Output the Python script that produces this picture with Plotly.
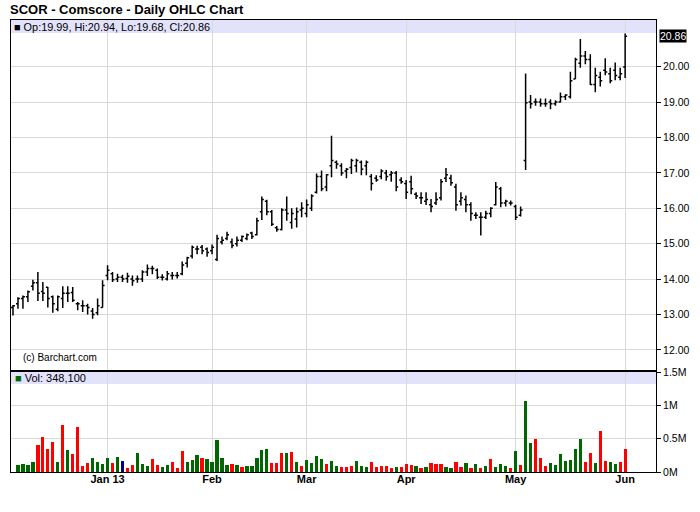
import pandas as pd
import plotly.graph_objects as go
from plotly.subplots import make_subplots

# ---- trading days (categories) ----
holidays = ["2012-12-25", "2013-01-01", "2013-01-21", "2013-02-18", "2013-03-29", "2013-05-27"]
dates = [d.strftime("%Y-%m-%d") for d in pd.bdate_range("2012-12-04", "2013-06-03")
         if d.strftime("%Y-%m-%d") not in holidays]

month_ticks = ["2013-01-02", "2013-02-01", "2013-03-01", "2013-04-01", "2013-05-01", "2013-06-03"]
month_labels = ["Jan 13", "Feb", "Mar", "Apr", "May", "Jun"]

price_ticks = [12, 13, 14, 15, 16, 17, 18, 19, 20]
vol_ticks = [0, 500000, 1000000, 1500000]
vol_labels = ["0M", "0.5M", "1M", "1.5M"]

# ---- OHLC ----
open_ = [
    # Dec
    13.20, 13.30, 13.45, 13.50, 13.80, 13.90, 13.65, 13.77, 13.50, 13.15, 13.45, 13.60, 13.62, 13.30, 13.25, 13.25, 13.10, 13.05, 13.20,
    # Jan
    14.10, 14.15, 14.00, 14.05, 14.02, 14.00, 14.00, 14.00, 14.20, 14.30, 14.25, 14.05, 14.00, 14.10, 14.10, 14.15, 14.45, 14.65, 14.85, 14.90, 14.85,
    # Feb
    14.80, 14.55, 15.05, 15.15, 15.05, 15.00, 15.10, 15.15, 15.30, 15.25, 15.90, 16.20, 15.90, 15.45, 15.40, 15.95, 15.60, 15.70, 15.95,
    # Mar
    15.85, 16.00, 16.45, 16.90, 16.60, 17.20, 17.30, 17.20, 17.05, 17.15, 17.20, 17.30, 17.20, 16.90, 16.85, 16.90, 17.00, 16.95, 17.00, 16.80,
    # Apr
    16.70, 16.75, 16.40, 16.30, 16.20, 16.10, 16.15, 16.30, 16.85, 16.85, 16.60, 16.20, 16.25, 16.10, 15.80, 15.75, 15.75, 15.85, 16.10, 16.55, 16.15, 16.15,
    # May
    16.05, 15.80, 17.35, 19.00, 19.00, 19.00, 18.95, 19.00, 18.95, 19.00, 19.15, 19.15, 19.65, 20.10, 20.30, 20.20, 19.50, 19.70, 19.90, 19.80, 19.90, 19.70,
    # Jun
    19.99,
]
high = [
    13.27, 13.49, 13.54, 13.68, 13.98, 14.20, 13.92, 13.78, 13.54, 13.54, 13.80, 13.80, 13.78, 13.35, 13.40, 13.30, 13.18, 13.45, 13.97,
    14.39, 14.20, 14.15, 14.12, 14.18, 14.10, 14.10, 14.25, 14.41, 14.38, 14.30, 14.14, 14.23, 14.20, 14.20, 14.50, 14.63, 14.95, 14.94, 14.96, 14.89,
    14.98, 15.25, 15.20, 15.34, 15.15, 15.20, 15.23, 15.29, 15.34, 15.73, 16.33, 16.24, 15.95, 15.50, 16.00, 16.33, 16.00, 16.02, 16.17,
    16.25, 16.40, 16.98, 17.07, 16.97, 18.05, 17.35, 17.27, 17.14, 17.40, 17.40, 17.35, 17.35, 16.97, 16.93, 17.10, 17.08, 17.05, 17.05, 16.88,
    16.80, 16.92, 16.45, 16.45, 16.45, 16.26, 16.45, 16.83, 17.14, 16.95, 16.69, 16.45, 16.36, 16.17, 15.89, 15.89, 15.93, 16.03, 16.74, 16.60, 16.24, 16.22,
    16.10, 16.05, 19.81, 19.20, 19.10, 19.10, 19.10, 19.08, 19.05, 19.27, 19.22, 19.86, 20.25, 20.78, 20.44, 20.35, 19.97, 19.86, 20.24, 19.97, 20.12, 19.97,
    20.94,
]
low = [
    12.97, 13.16, 13.16, 13.35, 13.68, 13.38, 13.38, 13.20, 13.05, 13.09, 13.18, 13.35, 13.35, 13.12, 13.07, 13.00, 12.88, 12.98, 13.20,
    13.97, 13.92, 13.92, 13.92, 13.90, 13.81, 13.90, 13.92, 14.09, 14.14, 14.00, 13.96, 13.96, 13.99, 14.02, 14.11, 14.33, 14.58, 14.70, 14.70, 14.63,
    14.70, 14.51, 14.98, 15.10, 14.87, 14.92, 15.05, 15.10, 15.13, 15.23, 15.67, 15.80, 15.50, 15.34, 15.37, 15.65, 15.42, 15.46, 15.75,
    15.75, 15.92, 16.42, 16.48, 16.48, 16.88, 17.12, 16.92, 16.85, 16.97, 17.02, 16.93, 16.93, 16.50, 16.75, 16.82, 16.78, 16.75, 16.48, 16.69,
    16.26, 16.40, 16.26, 16.12, 16.09, 15.89, 16.09, 16.22, 16.74, 16.64, 15.93, 16.08, 15.89, 15.65, 15.70, 15.23, 15.70, 15.75, 16.08, 16.03, 16.05, 16.08,
    15.67, 15.77, 17.08, 18.82, 18.90, 18.87, 18.87, 18.80, 18.90, 18.99, 19.06, 19.10, 19.65, 19.97, 20.07, 19.48, 19.28, 19.44, 19.76, 19.53, 19.62, 19.62,
    19.68,
]
close = [
    13.25, 13.45, 13.50, 13.64, 13.90, 13.60, 13.60, 13.45, 13.30, 13.50, 13.60, 13.60, 13.40, 13.30, 13.25, 13.20, 13.00, 13.25, 13.82,
    14.25, 13.98, 14.05, 14.00, 14.08, 13.95, 14.00, 14.20, 14.30, 14.30, 14.05, 14.05, 14.15, 14.10, 14.10, 14.40, 14.60, 14.90, 14.85, 14.80, 14.75,
    14.90, 15.15, 15.10, 15.25, 14.95, 15.10, 15.20, 15.25, 15.20, 15.65, 16.25, 15.90, 15.55, 15.40, 15.95, 15.85, 15.85, 15.90, 16.00,
    16.10, 16.35, 16.90, 16.55, 16.95, 17.35, 17.25, 17.00, 17.10, 17.35, 17.35, 17.10, 17.30, 16.70, 16.80, 17.05, 16.90, 17.00, 16.60, 16.75,
    16.45, 16.55, 16.35, 16.30, 16.25, 16.05, 16.25, 16.75, 16.95, 16.72, 16.10, 16.30, 16.10, 15.85, 15.80, 15.75, 15.85, 16.00, 16.60, 16.15, 16.20, 16.15,
    15.75, 15.95, 18.98, 18.95, 19.00, 18.95, 18.95, 18.95, 19.00, 19.15, 19.20, 19.60, 20.20, 20.30, 20.20, 19.50, 19.75, 19.60, 19.85, 19.60, 19.75, 19.80,
    20.86,
]

# ---- Volume; first day has no bar ----
volume = [
    None, 105000, 120000, 105000, 155000, 405000, 525000, 345000, 450000, 150000, 705000, 330000, 270000, 675000, 90000, 135000, 210000, 150000, 120000,
    210000, 135000, 225000, 165000, 60000, 105000, 285000, 120000, 90000, 195000, 105000, 75000, 105000, 150000, 60000, 315000, 150000, 180000, 255000, 210000, 195000,
    150000, 480000, 210000, 105000, 120000, 105000, 75000, 90000, 90000, 210000, 330000, 345000, 135000, 135000, 285000, 285000, 300000, 150000, 90000,
    180000, 135000, 240000, 195000, 120000, 165000, 90000, 75000, 75000, 85000, 160000, 85000, 70000, 145000, 70000, 85000, 85000, 55000, 70000, 70000,
    115000, 100000, 85000, 55000, 70000, 130000, 115000, 115000, 70000, 55000, 145000, 70000, 130000, 55000, 115000, 55000, 85000, 190000, 70000, 115000, 85000, 55000,
    310000, 100000, 1060000, 430000, 490000, 205000, 85000, 130000, 100000, 265000, 160000, 175000, 340000, 490000, 145000, 280000, 130000, 610000, 160000, 145000, 115000, 145000,
    348100,
]
vol_dir = list(
    "x" "uuuuddddududddduuu"
    "udundduuudduuddduuudu"
    "uuuududuuuuudddudud" "u"
    "uuuduuddduuudddddudd"
    "dududdduuddudududuuudud"
    "uuddduuuuuuuddudduudd"
    "u"
)

COL = {"u": "#006600", "d": "#ff0000", "n": "#000080", "x": "#006600"}
vol_colors = [COL[c] for c in vol_dir][:len(dates)]

FONT = "Liberation Sans, Arial, sans-serif"
GRID = "#d9d9d9"

fig = make_subplots(rows=2, cols=1, shared_xaxes=True, vertical_spacing=0.005)

fig.add_trace(go.Ohlc(
    x=dates, open=open_, high=high, low=low, close=close,
    increasing=dict(line=dict(color="black", width=1.5)),
    decreasing=dict(line=dict(color="black", width=1.5)),
    tickwidth=0.4, showlegend=False), row=1, col=1)

fig.add_trace(go.Bar(
    x=dates, y=volume, marker=dict(color=vol_colors, line=dict(width=0)),
    width=0.66, showlegend=False), row=2, col=1)

xcommon = dict(type="category", range=[-0.4, 129.2], tickvals=month_ticks,
               showgrid=True, gridcolor=GRID, gridwidth=1,
               showline=True, linecolor="black", linewidth=1, mirror=True,
               ticks="", zeroline=False, rangeslider=dict(visible=False))

fig.update_layout(
    width=700, height=512,
    margin=dict(l=10, r=42, t=20, b=40),
    paper_bgcolor="white", plot_bgcolor="white",
    font=dict(family=FONT, size=11, color="black"),
    bargap=0,
    title=dict(text="<b>SCOR - Comscore - Daily OHLC Chart</b>", x=10 / 700, xanchor="left",
               y=1 - 9 / 512, yanchor="middle", font=dict(size=13, family=FONT, color="black")),
    xaxis=dict(**xcommon, showticklabels=False),
    xaxis2=dict(**xcommon, showticklabels=True, ticktext=[f"<b>{m}</b>" for m in month_labels],
                tickfont=dict(size=11, color="black"), ticklabelstandoff=-3),
    yaxis=dict(domain=[(472 - 370) / 452, 1], range=[11.432, 21.319], side="right",
               tickvals=price_ticks, ticktext=[f"{v:.2f}" for v in price_ticks],
               showgrid=True, gridcolor=GRID, zeroline=False,
               showline=True, linecolor="black", linewidth=1, mirror=True,
               ticks="outside", ticklen=4, tickcolor="black",
               tickfont=dict(size=10.5, color="black")),
    yaxis2=dict(domain=[0, (472 - 372) / 452], range=[0, 1500000], side="right",
                tickvals=vol_ticks, ticktext=vol_labels,
                showgrid=True, gridcolor=GRID, zeroline=False,
                showline=True, linecolor="black", linewidth=1, mirror=True,
                ticks="outside", ticklen=4, tickcolor="black",
                tickfont=dict(size=10.5, color="black")),
)

# header bands
fig.add_shape(type="rect", xref="x domain", yref="y domain", x0=0, x1=1, y0=1 - 13 / 350, y1=1,
              fillcolor="#e2e2fa", line=dict(width=0), layer="below")
fig.add_shape(type="rect", xref="x2 domain", yref="y2 domain", x0=0, x1=1, y0=1 - 12 / 100, y1=1,
              fillcolor="#e2e2fa", line=dict(width=0), layer="below")

ohlc_text = (f"<span style='color:black'>■</span> Op:{open_[-1]:.2f}, Hi:{high[-1]:.2f}, "
             f"Lo:{low[-1]:.2f}, Cl:{close[-1]:.2f}")
fig.add_annotation(xref="paper", yref="paper", x=0, xshift=1, y=(472 - 27) / 452,
                   xanchor="left", yanchor="middle", showarrow=False, text=ohlc_text,
                   font=dict(size=10.9, color="black"))
fig.add_annotation(xref="paper", yref="paper", x=0, xshift=2, y=(472 - 378) / 452,
                   xanchor="left", yanchor="middle", showarrow=False,
                   text=f"<span style='color:#006600'>■</span> Vol: {volume[-1]:,}",
                   font=dict(size=11, color="black"))
fig.add_annotation(xref="paper", yref="paper", x=(22 - 10) / 648, xshift=-2, y=(472 - 357) / 452,
                   xanchor="left", yanchor="middle", showarrow=False, text="(c) Barchart.com",
                   font=dict(size=10, color="black"))
fig.add_annotation(xref="paper", yref="y", x=1, xshift=3, y=close[-1],
                   xanchor="left", yanchor="middle", showarrow=False, text=f"{close[-1]:.2f}",
                   bgcolor="black", borderpad=0, font=dict(size=10.5, color="white"))

fig.write_html("out.html", config={"displayModeBar": False},
               post_script="document.body.style.margin='0';")
